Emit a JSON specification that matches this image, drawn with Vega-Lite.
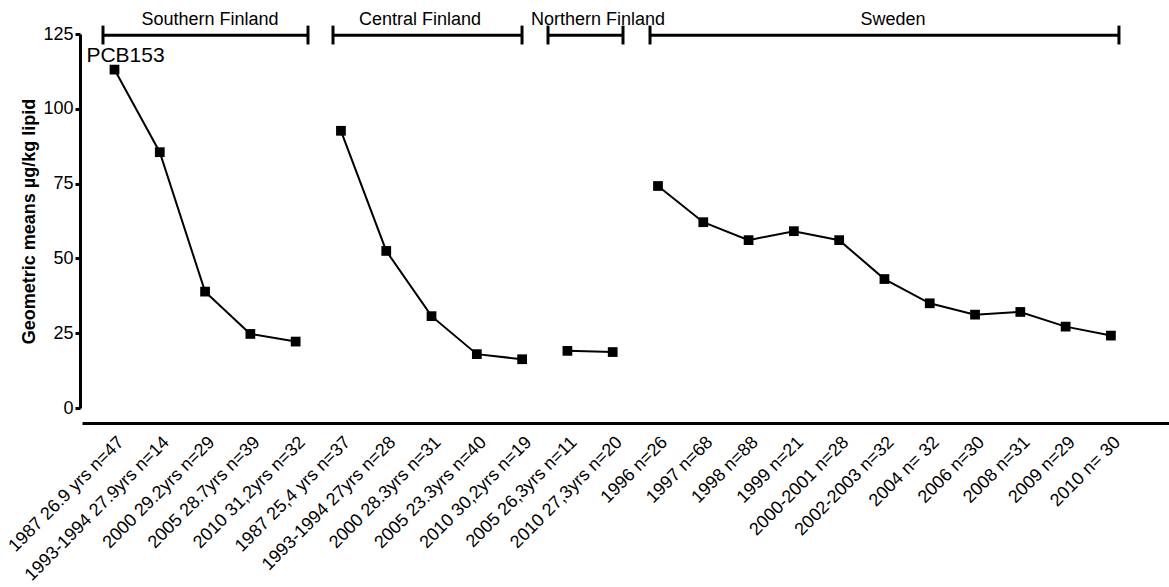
{
  "$schema": "https://vega.github.io/schema/vega-lite/v6.json",
  "autosize": {"type": "none"},
  "width": 1087,
  "height": 374,
  "padding": {"left": 82, "top": 34, "right": 0, "bottom": 179},
  "background": "white",
  "config": {
    "font": "Liberation Sans",
    "view": {"stroke": null},
    "axis": {"labelColor": "black", "titleColor": "black", "domainColor": "black", "tickColor": "black", "grid": false}
  },
  "datasets": {
    "pcb": [
      {"group": "Southern Finland", "cat": "1987 26.9 yrs n=47", "value": 113.1},
      {"group": "Southern Finland", "cat": "1993-1994 27.9yrs n=14", "value": 85.5},
      {"group": "Southern Finland", "cat": "2000 29.2yrs n=29", "value": 38.9},
      {"group": "Southern Finland", "cat": "2005 28.7yrs n=39", "value": 24.75},
      {"group": "Southern Finland", "cat": "2010 31,2yrs n=32", "value": 22.2},
      {"group": "Central Finland", "cat": "1987 25,4 yrs n=37", "value": 92.65},
      {"group": "Central Finland", "cat": "1993-1994 27yrs n=28", "value": 52.5},
      {"group": "Central Finland", "cat": "2000 28.3yrs n=31", "value": 30.7},
      {"group": "Central Finland", "cat": "2005 23.3yrs n=40", "value": 18.0},
      {"group": "Central Finland", "cat": "2010 30,2yrs n=19", "value": 16.3},
      {"group": "Northern Finland", "cat": "2005 26,3yrs n=11", "value": 19.1},
      {"group": "Northern Finland", "cat": "2010 27,3yrs n=20", "value": 18.7},
      {"group": "Sweden", "cat": "1996 n=26", "value": 74.2},
      {"group": "Sweden", "cat": "1997 n=68", "value": 62.1},
      {"group": "Sweden", "cat": "1998 n=88", "value": 56.1},
      {"group": "Sweden", "cat": "1999 n=21", "value": 59.1},
      {"group": "Sweden", "cat": "2000-2001 n=28", "value": 56.1},
      {"group": "Sweden", "cat": "2002-2003 n=32", "value": 43.1},
      {"group": "Sweden", "cat": "2004 n= 32", "value": 35.0},
      {"group": "Sweden", "cat": "2006 n=30", "value": 31.2},
      {"group": "Sweden", "cat": "2008 n=31", "value": 32.1},
      {"group": "Sweden", "cat": "2009 n=29", "value": 27.2},
      {"group": "Sweden", "cat": "2010 n= 30", "value": 24.2}
    ],
    "brackets": [
      {"group": "Southern Finland", "start": -0.358, "end": 4.226, "mid": 2.035},
      {"group": "Central Finland", "start": 4.785, "end": 9.012, "mid": 6.73},
      {"group": "Northern Finland", "start": 9.593, "end": 11.27, "mid": 10.71},
      {"group": "Sweden", "start": 11.874, "end": 22.36, "mid": 17.31}
    ],
    "note": [
      {"label": "PCB153", "pos": 0.145, "value": 117.7}
    ]
  },
  "resolve": {"scale": {"x": "independent"}, "axis": {"x": "independent"}},
  "layer": [
    {
      "data": {"name": "pcb"},
      "encoding": {
        "x": {
          "field": "cat", "type": "ordinal", "sort": null,
          "scale": {"type": "point", "padding": 1.153, "align": 0.3587},
          "axis": {
            "title": null, "offset": 15, "domainWidth": 3, "ticks": false,
            "labelAngle": -45, "labelAlign": "right", "labelBaseline": "top",
            "labelFontSize": 18, "labelPadding": 10, "labelOverlap": false, "labelLimit": 0
          }
        },
        "y": {
          "field": "value", "type": "quantitative",
          "scale": {"domain": [0, 125], "nice": false, "zero": true},
          "axis": {
            "title": "Geometric means µg/kg lipid", "titleFontSize": 18, "titleFontWeight": "bold", "titlePadding": 4,
            "values": [0, 25, 50, 75, 100, 125], "offset": 2, "domainWidth": 3, "tickWidth": 3, "tickSize": 5,
            "labelFontSize": 18, "labelPadding": 2
          }
        },
        "detail": {"field": "group"}
      },
      "layer": [
        {"mark": {"type": "line", "color": "black", "strokeWidth": 2}},
        {"mark": {"type": "point", "shape": "square", "filled": true, "color": "black", "opacity": 1, "size": 95}}
      ]
    },
    {
      "layer": [
        {
          "data": {"name": "brackets"},
          "mark": {"type": "rule", "color": "black", "strokeWidth": 3},
          "encoding": {
            "x": {"field": "start", "type": "quantitative", "scale": {"domain": [-0.8274, 23.479], "nice": false, "zero": false}, "axis": null},
            "x2": {"field": "end"},
            "y": {"datum": 124.6}
          }
        },
        {
          "data": {"name": "brackets"},
          "transform": [{"fold": ["start", "end"], "as": ["side", "pos"]}],
          "mark": {"type": "rule", "color": "black", "strokeWidth": 3},
          "encoding": {
            "x": {"field": "pos", "type": "quantitative", "axis": null},
            "y": {"datum": 121.5},
            "y2": {"datum": 127.8}
          }
        },
        {
          "data": {"name": "brackets"},
          "mark": {"type": "text", "fontSize": 18, "color": "black", "baseline": "middle", "align": "center"},
          "encoding": {
            "x": {"field": "mid", "type": "quantitative", "axis": null},
            "y": {"datum": 129.8},
            "text": {"field": "group"}
          }
        },
        {
          "data": {"name": "note"},
          "mark": {"type": "text", "fontSize": 21, "color": "black", "baseline": "middle", "align": "center"},
          "encoding": {
            "x": {"field": "pos", "type": "quantitative", "axis": null},
            "y": {"field": "value", "type": "quantitative"},
            "text": {"field": "label"}
          }
        }
      ]
    }
  ]
}
